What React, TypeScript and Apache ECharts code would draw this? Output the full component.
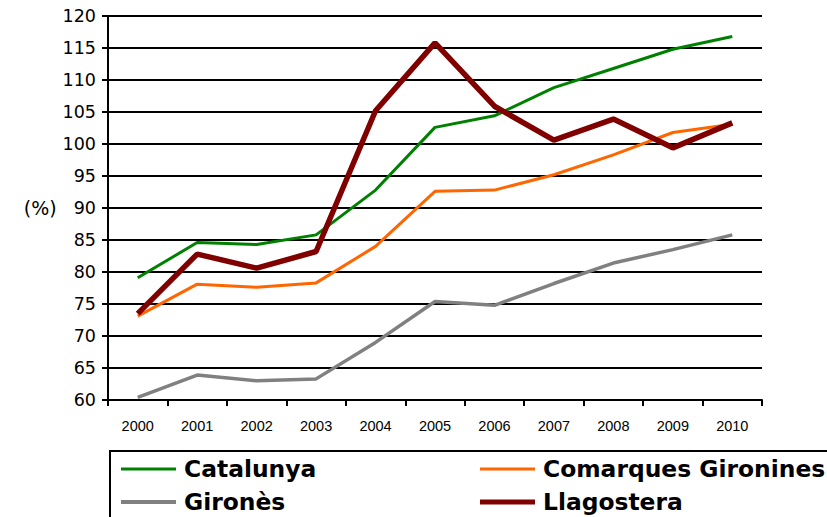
import React, { useEffect, useRef } from "react";
import * as echarts from "echarts";

const years = ["2000", "2001", "2002", "2003", "2004", "2005", "2006", "2007", "2008", "2009", "2010"];
const catalunya = [79.1, 84.6, 84.3, 85.8, 92.8, 102.6, 104.4, 108.8, 111.8, 114.8, 116.8];
const comarquesGironines = [73.1, 78.1, 77.6, 78.3, 84.0, 92.6, 92.8, 95.2, 98.3, 101.8, 103.1];
const girones = [60.4, 63.9, 63.0, 63.3, 69.0, 75.4, 74.8, 78.2, 81.4, 83.5, 85.8];
const llagostera = [73.5, 82.8, 80.6, 83.2, 105.2, 115.8, 105.9, 100.6, 103.9, 99.4, 103.3];

const seriesNames = ["Catalunya", "Comarques Gironines", "Gironès", "Llagostera"];
const seriesColors = ["#008000", "#FF6600", "#808080", "#800000"];
const seriesWidths = [3, 3, 3.5, 5.5];
const seriesData = [catalunya, comarquesGironines, girones, llagostera];

export default function App() {
  const ref = useRef<HTMLDivElement>(null);
  useEffect(() => {
    if (!ref.current) return;
    const chart = echarts.init(ref.current, null, { renderer: "svg" });
    const legendPos = [
      { left: 121, top: 456, h: 3 },
      { left: 480, top: 456, h: 3 },
      { left: 121, top: 489, h: 4 },
      { left: 480, top: 489, h: 5 },
    ];
    chart.setOption({
      animation: false,
      backgroundColor: "#ffffff",
      grid: { left: 108, right: 65, top: 16, bottom: 117, containLabel: false },
      xAxis: {
        type: "category",
        data: years,
        boundaryGap: true,
        axisLine: { show: true, lineStyle: { color: "#000", width: 2 } },
        axisTick: { show: true, length: 6, alignWithLabel: false, lineStyle: { color: "#000", width: 2 } },
        axisLabel: { color: "#000", fontSize: 14.5, fontFamily: "Liberation Sans", margin: 18 },
        splitLine: { show: false },
      },
      yAxis: {
        type: "value",
        min: 60,
        max: 120,
        interval: 5,
        name: "(%)",
        nameLocation: "middle",
        nameRotate: 0,
        nameGap: 51,
        nameTextStyle: { color: "#000", fontSize: 19, fontFamily: "DejaVu Sans", align: "right" },
        axisLine: { show: true, lineStyle: { color: "#000", width: 2 } },
        axisTick: { show: true, length: 6, lineStyle: { color: "#000", width: 2 } },
        axisLabel: { color: "#000", fontSize: 17.5, fontFamily: "DejaVu Sans", margin: 12 },
        splitLine: { show: true, lineStyle: { color: "#000", width: 2 } },
      },
      legend: seriesNames.map((name, i) => ({
        data: [name],
        left: legendPos[i].left,
        top: legendPos[i].top,
        padding: 0,
        icon: "rect",
        itemWidth: 55,
        itemHeight: legendPos[i].h,
        selectedMode: false,
        textStyle: {
          color: "#000",
          fontSize: 23.4,
          fontWeight: "bold",
          fontFamily: "DejaVu Sans",
          lineHeight: 26,
          padding: [0, 0, 0, 3],
        },
      })),
      graphic: [
        {
          type: "rect",
          shape: { x: 110, y: 451, width: 760, height: 100 },
          style: { fill: "none", stroke: "#000", lineWidth: 2 },
          silent: true,
        },
      ],
      series: seriesNames.map((name, i) => ({
        name,
        type: "line",
        data: seriesData[i],
        symbol: "none",
        smooth: false,
        itemStyle: { color: seriesColors[i] },
        lineStyle: { color: seriesColors[i], width: seriesWidths[i] },
      })),
    });
    return () => chart.dispose();
  }, []);
  return <div ref={ref} style={{ position: "fixed", left: 0, top: 0, width: 827, height: 517 }} />;
}
